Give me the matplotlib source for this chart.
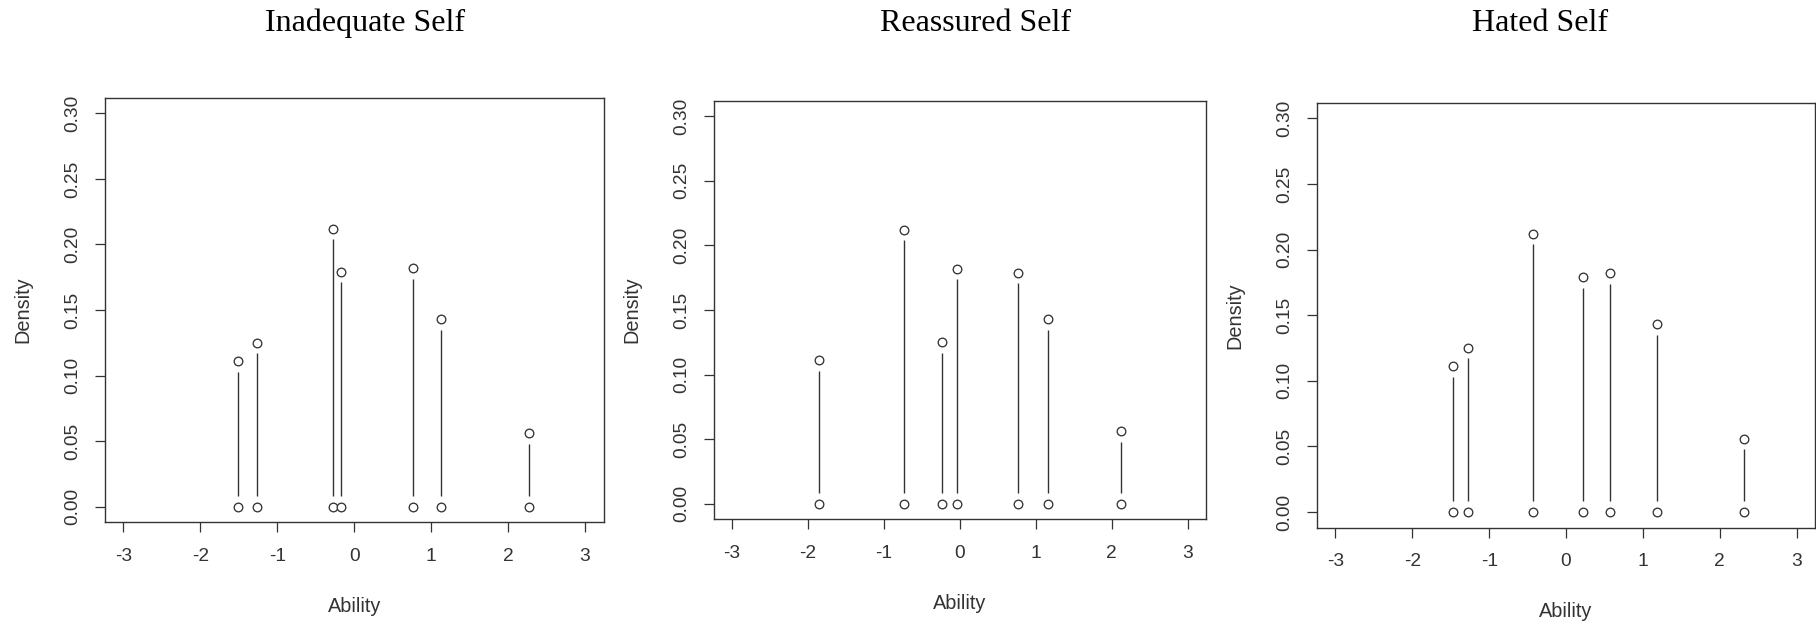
import matplotlib
matplotlib.use("Agg")
import matplotlib.pyplot as plt
import numpy as np

titles = ["Inadequate Self", "Reassured Self", "Hated Self"]

inadequate_x = [-1.51, -1.26, -0.27, -0.17, 0.76, 1.13, 2.27]
inadequate_p = [0.111, 0.125, 0.212, 0.179, 0.182, 0.143, 0.056]

reassured_x = [-1.85, -0.73, -0.24, -0.04, 0.76, 1.16, 2.12]
reassured_p = [0.111, 0.212, 0.125, 0.182, 0.179, 0.143, 0.056]

hated_x = [-1.47, -1.27, -0.43, 0.22, 0.57, 1.18, 2.31]
hated_p = [0.111, 0.125, 0.212, 0.179, 0.182, 0.143, 0.056]

x_ticks = [-3, -2, -1, 0, 1, 2, 3]
y_ticks = [0.00, 0.05, 0.10, 0.15, 0.20, 0.25, 0.30]

W, H = 1816, 627
fig = plt.figure(figsize=(W / 100, H / 100), dpi=100)

# panel boxes in pixels: left, right, top, bottom
boxes = [(105, 603.5, 97.7, 522.3), (713.7, 1206, 100.7, 519.3), (1317, 1815, 102.7, 527.7)]
title_pos = [365, 976, 1540]
series = [(inadequate_x, inadequate_p), (reassured_x, reassured_p), (hated_x, hated_p)]

ink = "#333333"
sans = ["Liberation Sans", "DejaVu Sans"]
serif = ["Liberation Serif", "DejaVu Serif"]

for (l, r, t, b), tx, (xs, ps), title in zip(boxes, title_pos, series, titles):
    ax = fig.add_axes([l / W, 1 - b / H, (r - l) / W, (b - t) / H])
    ax.set_xlim(-3.24, 3.24)
    ax.set_ylim(-0.012, 0.312)
    ax_h_px = b - t
    gap = 10.5 * 0.324 / ax_h_px
    xs = np.asarray(xs)
    ps = np.asarray(ps)
    ax.vlines(xs, gap, ps - gap, colors=ink, lw=1.0)
    ax.plot(xs, np.zeros_like(xs), "o", mfc="white", mec=ink, ms=6.2, mew=0.95, ls="none")
    ax.plot(xs, ps, "o", mfc="white", mec=ink, ms=6.2, mew=0.95, ls="none")
    ax.set_xticks(x_ticks)
    ax.set_xticklabels([str(v) for v in x_ticks])
    ax.set_yticks(y_ticks)
    ax.set_yticklabels([f"{v:.2f}" for v in y_ticks], rotation=90, va="center")
    ax.tick_params(axis="both", direction="out", length=7.3, width=0.9, color=ink,
                   labelcolor=ink, labelsize=13.8)
    ax.tick_params(axis="x", pad=11.0)
    ax.tick_params(axis="y", pad=9.5)
    for lab in ax.get_xticklabels() + ax.get_yticklabels():
        lab.set_family(sans)
    for sp in ax.spines.values():
        sp.set_color(ink)
        sp.set_linewidth(1.0)
    ax.annotate("Ability", xy=(0.5, 0), xycoords="axes fraction", xytext=(0, -84 * 0.72),
                textcoords="offset points", ha="center", va="center", fontsize=14.3,
                family=sans, color=ink)
    ax.annotate("Density", xy=(0, 0.5), xycoords="axes fraction", xytext=(-82 * 0.72, 0),
                textcoords="offset points", ha="center", va="center", rotation=90,
                fontsize=14.3, family=sans, color=ink)
    fig.text(tx / W, 1 - 31 / H, title, ha="center", va="baseline", fontsize=23,
             family=serif, color="black")

fig.savefig("out.png", dpi=100, facecolor="white")
